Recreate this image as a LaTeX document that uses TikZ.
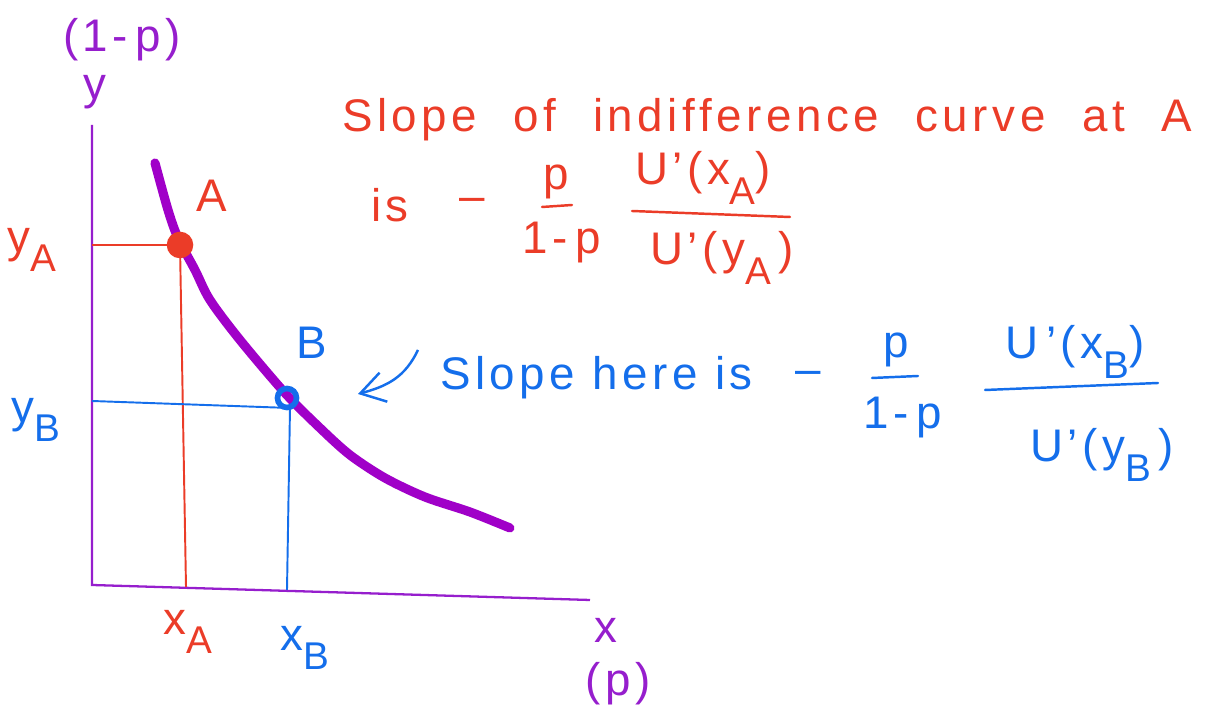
\documentclass[tikz,border=0pt]{standalone}
\usepackage{fontspec}
\setmainfont[LetterSpace=10]{Liberation Sans}
\usepackage{tikz}
\usetikzlibrary{arrows.meta,positioning,calc}
\definecolor{icpurple}{RGB}{160,0,200}
\definecolor{icaxis}{RGB}{150,30,205}
\definecolor{icred}{RGB}{235,60,40}
\definecolor{icblue}{RGB}{20,110,235}
\newcommand{\lowsub}[1]{\raisebox{-0.8ex}{\fontsize{11}{13}\selectfont #1}}
\tikzset{
  hand/.style={inner sep=1pt, font=\fontsize{13}{16}\selectfont},
  lblp/.style={hand, text=icaxis},
  lblr/.style={hand, text=icred},
  lblb/.style={hand, text=icblue},
  axis/.style={draw=icaxis, line width=0.65pt},
  icurve/.style={draw=icpurple, line width=2.6pt, line cap=round, line join=round},
  rline/.style={draw=icred, line width=0.55pt},
  bline/.style={draw=icblue, line width=0.55pt},
  rbar/.style={draw=icred, line width=0.7pt, line cap=round},
  bbar/.style={draw=icblue, line width=0.7pt, line cap=round},
  barr/.style={-{Straight Barb[length=2.4mm,width=3mm]}, draw=icblue, line width=0.7pt}
}
\begin{document}
\begin{tikzpicture}[x=0.01cm, y=-0.01cm]
  \useasboundingbox (0,0) rectangle (1217,713);
  \coordinate (O) at (92,585);
  \coordinate (ytop) at (92,125);
  \coordinate (xend) at (590,600);
  \coordinate (A) at (180,245);
  \coordinate (B) at (287,398);
  \draw[axis] (ytop) -- (O) -- (xend);
  \node[lblp] (onemp) at (122,40) {(1-\,p)};
  \node[lblp] (ylab) at (95,92) {y};
  \node[lblp] (xlab) at (606,630) {x};
  \node[lblp] (plab) at (618,684) {(p)};
  % guide lines to the axes
  \draw[rline] (92,245) -- (A) -- (186,587);
  \draw[bline] (92,401) -- (290,408) -- (287,590);
  \draw[icurve] plot[smooth] coordinates {(155,163) (168,210) (178,238) (195,270)
    (210,300) (240,340) (285,393) (320,428) (350,455) (385,478) (425,497) (470,512) (510,528)};
  \node[circle, fill=icred, draw=icred, line width=1pt, inner sep=0pt, minimum size=2.3mm] (Adot) at (A) {};
  \node[circle, draw=icblue, line width=1.6pt, inner sep=0pt, minimum size=1.9mm] (Bdot) at (B) {};
  \node[lblr] (Alab) at (212,196) {A};
  \node[lblb] (Blab) at (312,343) {B};
  \node[lblr] (yA) at (32,250) {y\lowsub{A}};
  \node[lblr] (xA) at (188,632) {x\lowsub{A}};
  \node[lblb] (yB) at (36,420) {y\lowsub{B}};
  \node[lblb] (xB) at (305,648) {x\lowsub{B}};
  % slope at A
  \node[lblr, anchor=west] (titleA) at (338,120)
    {\spaceskip=0.8em Slope of indifference curve at A};
  \node[lblr] (isA) at (390,205) {is};
  \node[lblr] (minA) at (472,205) {\textendash};
  \node[lblr] (pA) at (556,182) {p};
  \node[lblr] (qA) at (562,243) {1-\,p};
  \draw[rbar] (542,207) -- (572,205);
  \node[lblr] (uxA) at (703,178) {U'(x\lowsub{A})};
  \node[lblr] (uyA) at (722,258) {U'(y\lowsub{A}\,)};
  \draw[rbar] (632,211) -- (790,217);
  % slope at B
  \coordinate (arrS) at (418,350);
  \draw[barr] (arrS) .. controls (405,377) and (388,386) .. (358,394);
  \node[lblb, anchor=west] (hereB) at (436,378) {Slope here is};
  \node[lblb] (minB) at (808,378) {\textendash};
  \node[lblb] (pB) at (896,350) {p};
  \node[lblb] (qB) at (903,418) {1-\,p};
  \draw[bbar] (872,378) -- (918,376);
  \node[lblb] (uxB) at (1075,352) {U\,'(x\lowsub{B})};
  \node[lblb] (uyB) at (1102,455) {U'(y\lowsub{B}\,)};
  \draw[bbar] (985,390) -- (1158,383);
\end{tikzpicture}
\end{document}
